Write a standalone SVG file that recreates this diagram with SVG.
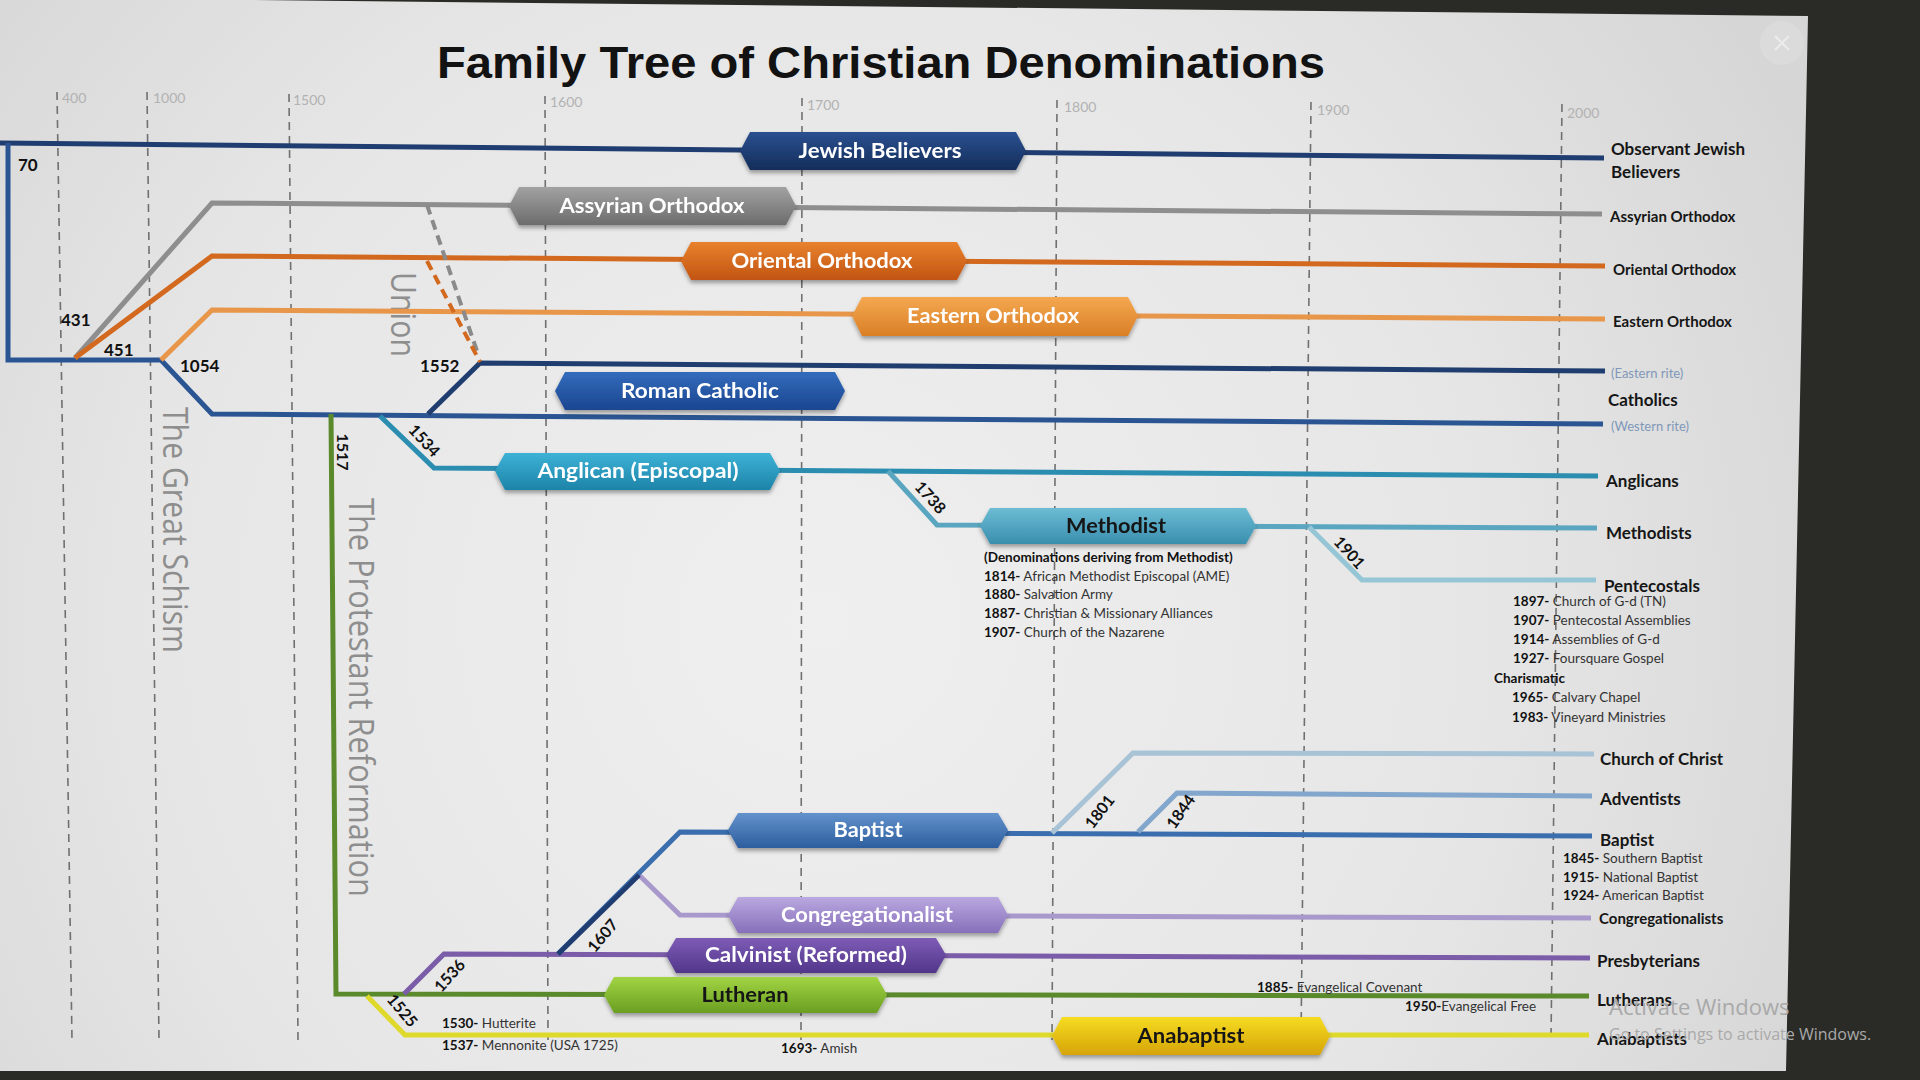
<svg xmlns="http://www.w3.org/2000/svg" width="1920" height="1080" viewBox="0 0 1920 1080">
<style>
.grid{stroke:#707070;stroke-width:1.6;stroke-dasharray:8 6;fill:none}
.ax{font-family:Lato,"Liberation Sans",sans-serif;font-size:14px;fill:#b2b2b2}
.ln{fill:none;stroke-width:5;stroke-linejoin:miter}
.un{fill:none;stroke-width:4;stroke-dasharray:10 6}
.bl{font-family:Lato,"Liberation Sans",sans-serif;font-weight:700;font-size:21px;text-anchor:middle;fill:#ffffff}
.bd{fill:#141414}
.end{font-family:Lato,"Liberation Sans",sans-serif;font-weight:700;font-size:17px;fill:#161616}
.sm{font-size:15px}
.rite{font-family:Lato,"Liberation Sans",sans-serif;font-size:13px;fill:#7f98b8}
.yr{font-family:Lato,"Liberation Sans",sans-serif;font-weight:700;font-size:17px;fill:#111111}
.ryr{font-family:Lato,"Liberation Sans",sans-serif;font-weight:700;font-size:16px;fill:#111111;text-anchor:middle;dominant-baseline:central}
.note{font-family:Lato,"Liberation Sans",sans-serif;font-size:13.5px;fill:#333333}
.nb{font-weight:700;fill:#111111}
.era{font-family:"Open Sans","Noto Sans",sans-serif;font-size:34px;fill:#8e8e8e}
.box{filter:url(#sh)}
</style>
<defs>
<radialGradient id="bg" cx="820" cy="620" r="1100" gradientUnits="userSpaceOnUse">
<stop offset="0" stop-color="#efefef"/><stop offset="0.6" stop-color="#e6e6e6"/><stop offset="1" stop-color="#d6d6d6"/>
</radialGradient>
<filter id="sh" x="-10%" y="-30%" width="120%" height="170%"><feDropShadow dx="0" dy="3" stdDeviation="2" flood-color="#000" flood-opacity="0.35"/></filter>
<linearGradient id="gJew" x1="0" y1="0" x2="0" y2="1"><stop offset="0" stop-color="#2b5090"/><stop offset="1" stop-color="#142d5a"/></linearGradient>
<linearGradient id="gAss" x1="0" y1="0" x2="0" y2="1"><stop offset="0" stop-color="#a2a2a2"/><stop offset="1" stop-color="#6c6c6c"/></linearGradient>
<linearGradient id="gOri" x1="0" y1="0" x2="0" y2="1"><stop offset="0" stop-color="#e8822e"/><stop offset="1" stop-color="#c25412"/></linearGradient>
<linearGradient id="gEas" x1="0" y1="0" x2="0" y2="1"><stop offset="0" stop-color="#f4a850"/><stop offset="1" stop-color="#d97f26"/></linearGradient>
<linearGradient id="gRom" x1="0" y1="0" x2="0" y2="1"><stop offset="0" stop-color="#336cbc"/><stop offset="1" stop-color="#1b4590"/></linearGradient>
<linearGradient id="gAng" x1="0" y1="0" x2="0" y2="1"><stop offset="0" stop-color="#3db2d6"/><stop offset="1" stop-color="#1d83a8"/></linearGradient>
<linearGradient id="gMet" x1="0" y1="0" x2="0" y2="1"><stop offset="0" stop-color="#6cbcd4"/><stop offset="1" stop-color="#3a8fae"/></linearGradient>
<linearGradient id="gBap" x1="0" y1="0" x2="0" y2="1"><stop offset="0" stop-color="#6292cc"/><stop offset="1" stop-color="#2d5e9e"/></linearGradient>
<linearGradient id="gCon" x1="0" y1="0" x2="0" y2="1"><stop offset="0" stop-color="#baa8e0"/><stop offset="1" stop-color="#8670ba"/></linearGradient>
<linearGradient id="gCal" x1="0" y1="0" x2="0" y2="1"><stop offset="0" stop-color="#7e5cb6"/><stop offset="1" stop-color="#51368a"/></linearGradient>
<linearGradient id="gLut" x1="0" y1="0" x2="0" y2="1"><stop offset="0" stop-color="#a2d442"/><stop offset="1" stop-color="#6a9e22"/></linearGradient>
<linearGradient id="gAna" x1="0" y1="0" x2="0" y2="1"><stop offset="0" stop-color="#f6dc22"/><stop offset="1" stop-color="#d6a406"/></linearGradient>
</defs>

<rect width="1920" height="1080" fill="#2a2b27"/>
<polygon points="0,0 250,0 1808,16 1786,1071 0,1071" fill="url(#bg)"/>

<g id="close-button">
<circle cx="1782" cy="43" r="22" fill="#ffffff" opacity="0.14"/>
<path d="M1775,36 L1789,50 M1789,36 L1775,50" stroke="#f0f0f0" stroke-width="2" opacity="0.8"/>
</g>

<text x="881" y="78" font-family="'Liberation Sans',Arial,sans-serif" font-weight="700" font-size="45" fill="#121212" text-anchor="middle" textLength="888" lengthAdjust="spacingAndGlyphs">Family Tree of Christian Denominations</text>

<g id="timeline-grid">
<path class="grid" d="M57,92 L72,1040 M147,92 L159,1040 M289,94 L298,1040 M545,96 L548,1040 M802,98 L801,1040 M1057,100 L1052,1040 M1311,102 L1301,1040 M1562,104 L1551,1040"/>
<text class="ax" x="62" y="103">400</text>
<text class="ax" x="153" y="103">1000</text>
<text class="ax" x="293" y="105">1500</text>
<text class="ax" x="550" y="107">1600</text>
<text class="ax" x="807" y="110">1700</text>
<text class="ax" x="1064" y="112">1800</text>
<text class="ax" x="1317" y="115">1900</text>
<text class="ax" x="1567" y="118">2000</text>
</g>

<g id="era-labels">
<text class="era" transform="translate(163,407) rotate(90)" textLength="246" lengthAdjust="spacingAndGlyphs">The Great Schism</text>
<text class="era" transform="translate(349,498) rotate(90)" textLength="399" lengthAdjust="spacingAndGlyphs">The Protestant Reformation</text>
<text class="era" font-size="30" transform="translate(391,272) rotate(90)" textLength="85" lengthAdjust="spacingAndGlyphs">Union</text>
</g>

<g id="connectors">
<path class="ln" stroke="#1f3d70" d="M0,143 L1604,158"/>
<path class="ln" stroke="#2a5592" d="M8,143 L8,360 L161,360 L212,414 L1603,424"/>
<path class="ln" stroke="#1f3d6e" d="M428,414 L480,363 L1605,371"/>
<path class="ln" stroke="#8e8e8e" d="M75,358 L212,203 L1602,214"/>
<path class="ln" stroke="#d2691e" d="M75,358 L212,256 L1605,266"/>
<path class="ln" stroke="#e8974a" d="M161,360 L212,310 L1605,319"/>
<path class="un" stroke="#8a8a8a" d="M427,205 L478,354"/>
<path class="un" stroke="#d2691e" d="M427,261 L480,362"/>
<path class="ln" stroke="#2b8db0" d="M380,416 L434,468 L1598,476"/>
<path class="ln" stroke="#5aa6c0" d="M888,471 L937,525 L1597,528"/>
<path class="ln" stroke="#96c6d6" d="M1309,527 L1362,580 L1596,580"/>
<path class="ln" stroke="#5a8a2c" d="M331,414 L336,994 L1589,996"/>
<path class="ln" stroke="#dfd92c" d="M367,996 L405,1035 L1589,1035"/>
<path class="ln" stroke="#7b5ca8" d="M404,994 L444,954 L1590,958"/>
<path class="ln" stroke="#a898cc" d="M639,875 L680,915 L1591,918"/>
<path class="ln" stroke="#3a6eae" d="M558,954 L680,832 L1592,836"/>
<path class="ln" stroke="#1f3d70" d="M558,954 L639,875"/>
<path class="ln" stroke="#a8c2d6" d="M1052,833 L1133,753 L1594,754"/>
<path class="ln" stroke="#82a6cc" d="M1138,832 L1177,793 L1592,796"/>
</g>

<g id="year-labels">
<text class="yr" x="18" y="171">70</text>
<text class="yr" x="61" y="326">431</text>
<text class="yr" x="104" y="356">451</text>
<text class="yr" x="180" y="372">1054</text>
<text class="yr" x="420" y="372">1552</text>
<text class="ryr" transform="translate(343,452) rotate(90)">1517</text>
<text class="ryr" transform="translate(425,440) rotate(47)">1534</text>
<text class="ryr" transform="translate(931,497) rotate(48)">1738</text>
<text class="ryr" transform="translate(1350,552) rotate(48)">1901</text>
<text class="ryr" transform="translate(403,1010) rotate(50)">1525</text>
<text class="ryr" transform="translate(449,975) rotate(-48)">1536</text>
<text class="ryr" transform="translate(602,935) rotate(-50)">1607</text>
<text class="ryr" transform="translate(1099,811) rotate(-52)">1801</text>
<text class="ryr" transform="translate(1180,811) rotate(-55)">1844</text>
</g>

<g id="node-jewish" class="box">
<polygon points="750,132 1016,132 1026,151 1016,170 750,170 740,151" fill="url(#gJew)"/>
<text class="bl" x="880" y="158" textLength="163" lengthAdjust="spacingAndGlyphs">Jewish Believers</text>
</g>
<g id="node-assyrian" class="box">
<polygon points="519,187 786,187 796,206 786,225 519,225 509,206" fill="url(#gAss)"/>
<text class="bl" x="652" y="213" textLength="185" lengthAdjust="spacingAndGlyphs">Assyrian Orthodox</text>
</g>
<g id="node-oriental" class="box">
<polygon points="691,242 957,242 967,261 957,280 691,280 681,261" fill="url(#gOri)"/>
<text class="bl" x="822" y="268" textLength="181" lengthAdjust="spacingAndGlyphs">Oriental Orthodox</text>
</g>
<g id="node-eastern" class="box">
<polygon points="862,297 1128,297 1138,316 1128,336 862,336 852,316" fill="url(#gEas)"/>
<text class="bl" x="993" y="323" textLength="172" lengthAdjust="spacingAndGlyphs">Eastern Orthodox</text>
</g>
<g id="node-roman-catholic" class="box">
<polygon points="565,372 835,372 845,391 835,410 565,410 555,391" fill="url(#gRom)"/>
<text class="bl" x="700" y="398" textLength="158" lengthAdjust="spacingAndGlyphs">Roman Catholic</text>
</g>
<g id="node-anglican" class="box">
<polygon points="505,453 770,453 780,471 770,490 505,490 495,471" fill="url(#gAng)"/>
<text class="bl" x="638" y="478" textLength="201" lengthAdjust="spacingAndGlyphs">Anglican (Episcopal)</text>
</g>
<g id="node-methodist" class="box">
<polygon points="990,508 1246,508 1256,526 1246,544 990,544 980,526" fill="url(#gMet)"/>
<text class="bl bd" x="1116" y="533" textLength="100" lengthAdjust="spacingAndGlyphs">Methodist</text>
</g>
<g id="node-baptist" class="box">
<polygon points="738,813 998,813 1008,830 998,848 738,848 728,830" fill="url(#gBap)"/>
<text class="bl" x="868" y="837" textLength="69" lengthAdjust="spacingAndGlyphs">Baptist</text>
</g>
<g id="node-congregationalist" class="box">
<polygon points="738,897 998,897 1008,915 998,933 738,933 728,915" fill="url(#gCon)"/>
<text class="bl" x="867" y="922" textLength="172" lengthAdjust="spacingAndGlyphs">Congregationalist</text>
</g>
<g id="node-calvinist" class="box">
<polygon points="676,938 936,938 946,955 936,973 676,973 666,955" fill="url(#gCal)"/>
<text class="bl" x="806" y="962" textLength="202" lengthAdjust="spacingAndGlyphs">Calvinist (Reformed)</text>
</g>
<g id="node-lutheran" class="box">
<polygon points="614,977 877,977 887,995 877,1013 614,1013 604,995" fill="url(#gLut)"/>
<text class="bl bd" x="745" y="1002" textLength="87" lengthAdjust="spacingAndGlyphs">Lutheran</text>
</g>
<g id="node-anabaptist" class="box">
<polygon points="1062,1017 1320,1017 1330,1036 1320,1055 1062,1055 1052,1036" fill="url(#gAna)"/>
<text class="bl bd" x="1191" y="1043" textLength="107" lengthAdjust="spacingAndGlyphs">Anabaptist</text>
</g>

<g id="end-labels">
<text class="end" x="1611" y="155">Observant Jewish</text>
<text class="end" x="1611" y="178">Believers</text>
<text class="end sm" x="1610" y="222">Assyrian Orthodox</text>
<text class="end sm" x="1613" y="275">Oriental Orthodox</text>
<text class="end sm" x="1613" y="327">Eastern Orthodox</text>
<text class="rite" x="1611" y="378">(Eastern rite)</text>
<text class="end" x="1608" y="406">Catholics</text>
<text class="rite" x="1611" y="431">(Western rite)</text>
<text class="end" x="1606" y="487">Anglicans</text>
<text class="end" x="1606" y="539">Methodists</text>
<text class="end" x="1604" y="592">Pentecostals</text>
<text class="end" x="1600" y="765">Church of Christ</text>
<text class="end" x="1600" y="805">Adventists</text>
<text class="end" x="1600" y="846">Baptist</text>
<text class="end sm" x="1599" y="924">Congregationalists</text>
<text class="end" x="1597" y="967">Presbyterians</text>
<text class="end" x="1597" y="1006">Lutherans</text>
<text class="end" x="1597" y="1045">Anabaptists</text>
</g>

<g id="notes">
<text class="note nb" x="984" y="562">(Denominations deriving from Methodist)</text>
<text class="note" x="984" y="581"><tspan class="nb">1814-</tspan> African Methodist Episcopal (AME)</text>
<text class="note" x="984" y="599"><tspan class="nb">1880-</tspan> Salvation Army</text>
<text class="note" x="984" y="618"><tspan class="nb">1887-</tspan> Christian &amp; Missionary Alliances</text>
<text class="note" x="984" y="637"><tspan class="nb">1907-</tspan> Church of the Nazarene</text>

<text class="note" x="1513" y="606"><tspan class="nb">1897-</tspan> Church of G-d (TN)</text>
<text class="note" x="1513" y="625"><tspan class="nb">1907-</tspan> Pentecostal Assemblies</text>
<text class="note" x="1513" y="644"><tspan class="nb">1914-</tspan> Assemblies of G-d</text>
<text class="note" x="1513" y="663"><tspan class="nb">1927-</tspan> Foursquare Gospel</text>
<text class="note nb" x="1494" y="683">Charismatic</text>
<text class="note" x="1512" y="702"><tspan class="nb">1965-</tspan> Calvary Chapel</text>
<text class="note" x="1512" y="722"><tspan class="nb">1983-</tspan> Vineyard Ministries</text>

<text class="note" x="1563" y="863"><tspan class="nb">1845-</tspan> Southern Baptist</text>
<text class="note" x="1563" y="882"><tspan class="nb">1915-</tspan> National Baptist</text>
<text class="note" x="1563" y="900"><tspan class="nb">1924-</tspan> American Baptist</text>

<text class="note" x="1257" y="992"><tspan class="nb">1885-</tspan> Evangelical Covenant</text>
<text class="note" x="1405" y="1011"><tspan class="nb">1950-</tspan>Evangelical Free</text>
<text class="note" x="442" y="1028"><tspan class="nb">1530-</tspan> Hutterite</text>
<text class="note" x="442" y="1050"><tspan class="nb">1537-</tspan> Mennonite (USA 1725)</text>
<text class="note" x="781" y="1053"><tspan class="nb">1693-</tspan> Amish</text>
</g>

<g id="watermark" font-family="'Open Sans','Noto Sans',sans-serif" fill="#a9a9a9">
<text x="1609" y="1015" font-size="22">Activate Windows</text>
<text x="1609" y="1040" font-size="16">Go to Settings to activate Windows.</text>
</g>
</svg>
